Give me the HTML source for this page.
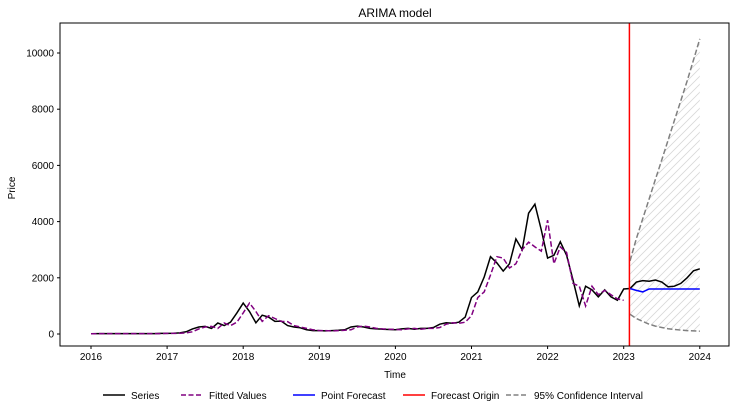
<!DOCTYPE html>
<html><head><meta charset="utf-8"><style>
body{margin:0;background:#fff;font-family:"Liberation Sans",sans-serif;}
svg text{font-family:"Liberation Sans",sans-serif;fill:#000;}
</style></head><body>
<svg id="chart" width="736" height="412" xmlns="http://www.w3.org/2000/svg">
<defs>
<pattern id="hatch" patternUnits="userSpaceOnUse" width="8" height="8">
<path d="M-2,2 L2,-2 M0,8 L8,0 M6,10 L10,6" stroke="#d8d8d8" stroke-width="0.8"/>
</pattern>
<clipPath id="clip"><rect x="60" y="23" width="669" height="323"/></clipPath>
</defs>
<text x="395" y="17" font-size="12" text-anchor="middle">ARIMA model</text>
<g id="plot" clip-path="url(#clip)"></g>
<rect x="60" y="23" width="669" height="323" fill="none" stroke="#000" stroke-width="1"/>
<g id="axes"></g>
<text x="395" y="378" font-size="10" text-anchor="middle">Time</text>
<text transform="translate(15,188) rotate(-90)" font-size="10" text-anchor="middle">Price</text>
<g id="legend"></g>
</svg>
<script>
const series = [10,15,15,15,15,15,15,15,15,15,15,20,
 20,25,40,80,180,250,270,200,390,300,420,750,
 1100,800,400,670,600,450,460,300,250,220,150,120,
 120,110,120,130,150,250,280,250,200,180,170,160,
 150,180,200,170,200,200,230,350,400,380,420,600,
 1300,1500,2030,2750,2530,2240,2500,3380,3000,4300,4620,3700,
 2700,2800,3280,2800,1920,1000,1700,1570,1320,1570,1320,1200,
 1600,1620,1850,1900,1880,1920,1850,1680,1700,1800,2000,2250,2320];
const fitted = [10,10,15,15,15,15,15,15,15,15,15,15,
 20,20,25,40,80,180,250,270,200,390,300,420,
 750,1100,800,450,650,550,450,440,300,250,200,150,
 120,120,110,120,130,150,250,280,250,200,180,170,
 160,150,180,200,170,200,200,230,350,400,380,420,
 650,1300,1500,2100,2750,2700,2350,2500,3000,3270,3100,2950,
 4050,2500,3100,2900,1800,1700,1000,1700,1400,1550,1400,1250,1200];
const forecast = [1620,1550,1500,1600,1600,1600,1600,1600,1600,1600,1600,1600];
const ciUpper = [2600,3400,4100,4800,5500,6200,6900,7600,8300,9000,9750,10500];
const ciLower = [700,550,450,350,280,230,190,160,140,120,110,100];
const yTicks = [0,2000,4000,6000,8000,10000];
const xTicks = [2016,2017,2018,2019,2020,2021,2022,2023,2024];
const forecastStart = 85; // month index of Feb 2023 region (origin at Jan+1)

const NS="http://www.w3.org/2000/svg";
const X0=91, XPY=76.1, Y0=334, YPU=0.0281;
function xs(t){return X0+(t-2016)*XPY;}
function xm(i){return xs(2016+i/12);}
function ys(v){return Y0-v*YPU;}
function mk(tag,attrs,parent){const e=document.createElementNS(NS,tag);for(const k in attrs)e.setAttribute(k,attrs[k]);parent.appendChild(e);return e;}
const plot=document.getElementById('plot'), axes=document.getElementById('axes');
function pts(arr,off){return arr.map((v,i)=>xm(i+off).toFixed(1)+','+ys(v).toFixed(1)).join(' ');}

// CI hatched area
let poly=ciUpper.map((v,i)=>xm(i+forecastStart)+','+ys(v));
poly=poly.concat(ciLower.map((v,i)=>xm(i+forecastStart)+','+ys(v)).reverse());
const area=mk('polygon',{points:poly.join(' '),fill:'url(#hatch)',stroke:'none'},plot);



const s=mk('polyline',{points:pts(series,0),fill:'none',stroke:'#000','stroke-width':1.5},plot);


const f=mk('polyline',{points:pts(fitted,0),fill:'none',stroke:'#800080','stroke-width':1.5,'stroke-dasharray':'5.5,2.5'},plot);


const fc=mk('polyline',{points:pts(forecast,forecastStart),fill:'none',stroke:'#0000ff','stroke-width':1.5},plot);


const cu=mk('polyline',{points:pts(ciUpper,forecastStart),fill:'none',stroke:'#808080','stroke-width':1.5,'stroke-dasharray':'5.5,2.5'},plot);


const cl=mk('polyline',{points:pts(ciLower,forecastStart),fill:'none',stroke:'#808080','stroke-width':1.5,'stroke-dasharray':'5.5,2.5'},plot);


const ox=xm(forecastStart-0.1);
const ol=mk('line',{x1:ox,x2:ox,y1:23,y2:346,stroke:'#ff0000','stroke-width':1.5},plot);



yTicks.forEach(v=>{const y=ys(v);
 mk('line',{x1:57,x2:60,y1:y,y2:y,stroke:'#000'},axes);
 const t=mk('text',{x:54,y:y+3.5,'font-size':10,'text-anchor':'end'},axes);t.textContent=v;
 
 
});
xTicks.forEach(v=>{const x=xs(v);
 mk('line',{x1:x,x2:x,y1:346,y2:349,stroke:'#000'},axes);
 const t=mk('text',{x:x,y:360,'font-size':10,'text-anchor':'middle'},axes);t.textContent=v;
 
 
});

const leg=document.getElementById('legend');
const items=[['Series','#000',null,103],['Fitted Values','#800080','5,2.5',181],['Point Forecast','#0000ff',null,293],['Forecast Origin','#ff0000',null,403],['95% Confidence Interval','#808080','5,2.5',506]];
items.forEach(it=>{
 const g=mk('g',{},leg);
 
 
 const a={x1:it[3],x2:it[3]+22,y1:395,y2:395,stroke:it[1],'stroke-width':1.5};
 if(it[2])a['stroke-dasharray']=it[2];
 mk('line',a,g);
 const t=mk('text',{x:it[3]+28,y:399,'font-size':10},g);t.textContent=it[0];
});
</script>
</body></html>
